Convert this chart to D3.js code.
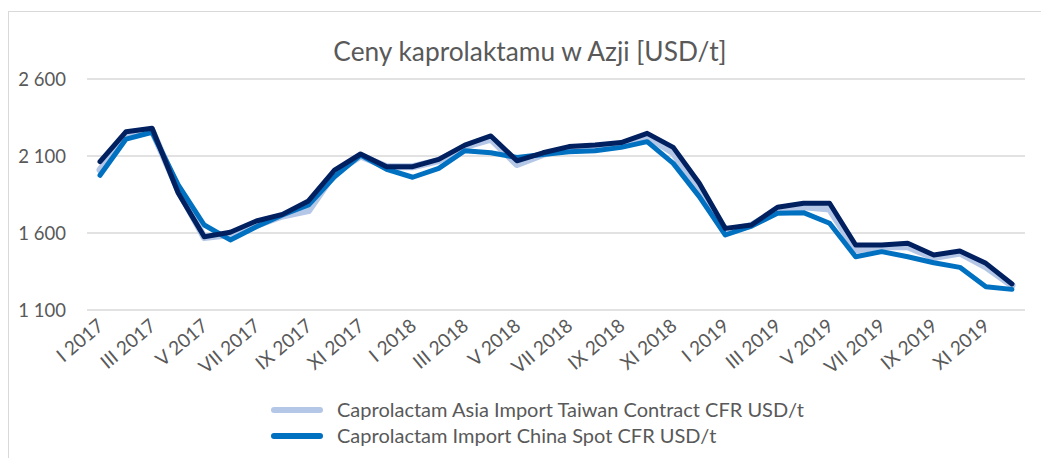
<!DOCTYPE html>
<html>
<head>
<meta charset="utf-8">
<script src="https://cdn.jsdelivr.net/npm/d3@7"></script>
<style>
  body { margin: 0; background: #fff; }
  svg { display: block; font-family: Lato, "Open Sans", sans-serif; }
</style>
</head>
<body>
<div id="chart"></div>
<script>
// months I 2017 .. XII 2019
const romans = ['I', 'II', 'III', 'IV', 'V', 'VI', 'VII', 'VIII', 'IX', 'X', 'XI', 'XII'];
const years = [2017, 2018, 2019];
const months = [];
years.forEach(y => romans.forEach(r => months.push(`${r} ${y}`)));

const yTicks = [1100, 1600, 2100, 2600];

const taiwanContract = [
  2010, 2230, 2265, 1880, 1570, 1590, 1650, 1710, 1745, 1990, 2100, 2030,
  2030, 2070, 2160, 2210, 2045, 2110, 2150, 2160, 2175, 2230, 2120, 1880,
  1610, 1650, 1750, 1770, 1755, 1490, 1510, 1510, 1440, 1470, 1380, 1260
];
const chinaSpot = [
  1975, 2210, 2254, 1912, 1652, 1555, 1641, 1717, 1782, 1965, 2106, 2014,
  1962, 2020, 2134, 2121, 2090, 2110, 2128, 2134, 2156, 2193, 2052, 1836,
  1587, 1645, 1728, 1732, 1663, 1446, 1479, 1446, 1407, 1377, 1251, 1234
];
const thirdSeries = [
  2063, 2258, 2280, 1860, 1576, 1605, 1678, 1721, 1808, 2009, 2113, 2031,
  2031, 2078, 2171, 2230, 2069, 2121, 2161, 2171, 2187, 2247, 2156, 1923,
  1630, 1652, 1767, 1793, 1793, 1522, 1522, 1533, 1457, 1483, 1403, 1269
];

const series = [
  { name: 'Caprolactam Asia Import Taiwan Contract CFR USD/t', values: taiwanContract, color: '#b4c7e7', width: 7, legend: true },
  { name: 'Caprolactam Import China Spot CFR USD/t', values: chinaSpot, color: '#0070c0', width: 5, legend: true },
  { name: 'Caprolactam (third series)', values: thirdSeries, color: '#002060', width: 5, legend: false }
];

const W = 1041, H = 458;
const svg = d3.select('#chart').append('svg').attr('width', W).attr('height', H);

// chart area border
svg.append('rect')
  .attr('x', 8.5).attr('y', 11.5)
  .attr('width', 1100).attr('height', 600)
  .attr('fill', 'none').attr('stroke', '#d9d9d9').attr('stroke-width', 1);

const x = d3.scalePoint().domain(months).range([87, 1025]).padding(0.5);
const y = d3.scaleLinear().domain([1100, 2600]).range([310, 79]);

// title
svg.append('text')
  .attr('x', 530).attr('y', 61)
  .attr('text-anchor', 'middle')
  .attr('fill', '#595959')
  .style('font-size', '26.3px')
  .text('Ceny kaprolaktamu w Azji [USD/t]');

// gridlines
svg.append('g')
  .selectAll('line')
  .data(yTicks)
  .join('line')
  .attr('x1', 87).attr('x2', 1025)
  .attr('y1', d => y(d)).attr('y2', d => y(d))
  .attr('stroke', '#d9d9d9').attr('stroke-width', 1.3);

// y axis labels
const fmt = d => d3.format(',')(d).replace(',', '\u00a0');
svg.append('g')
  .selectAll('text')
  .data(yTicks)
  .join('text')
  .attr('x', 66).attr('y', d => y(d) + 6.5)
  .attr('text-anchor', 'end')
  .attr('fill', '#595959')
  .style('font-size', '18.5px')
  .text(fmt);

// x axis labels, every second month
svg.append('g')
  .selectAll('text')
  .data(months.filter((d, i) => i % 2 === 0))
  .join('text')
  .attr('transform', d => `translate(${x(d) + 5}, 328) rotate(-40)`)
  .attr('text-anchor', 'end')
  .attr('fill', '#595959')
  .style('font-size', '19px')
  .text(d => d);

// lines
const line = d3.line()
  .x((d, i) => x(months[i]))
  .y(d => y(d));

svg.append('g')
  .selectAll('path')
  .data(series)
  .join('path')
  .attr('d', d => line(d.values))
  .attr('fill', 'none')
  .attr('stroke', d => d.color)
  .attr('stroke-width', d => d.width)
  .attr('stroke-linejoin', 'round')
  .attr('stroke-linecap', 'round');

// legend
const leg = svg.append('g')
  .selectAll('g')
  .data(series.filter(d => d.legend))
  .join('g')
  .attr('transform', (d, i) => `translate(272, ${410 + i * 26})`);

leg.append('line')
  .attr('x1', 2).attr('x2', 48)
  .attr('stroke', d => d.color)
  .attr('stroke-width', 6)
  .attr('stroke-linecap', 'round');

leg.append('text')
  .attr('x', 65).attr('y', 7)
  .attr('fill', '#595959')
  .style('font-size', '20px')
  .text(d => d.name);
</script>
</body>
</html>
